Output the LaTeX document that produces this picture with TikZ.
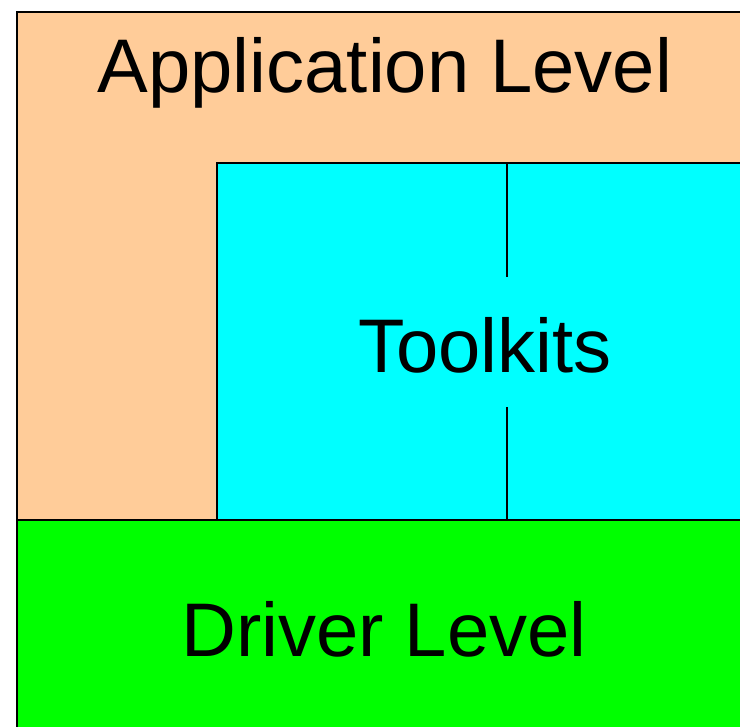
\documentclass[tikz,border=0pt]{standalone}
\usepackage{fontspec}
\setmainfont{Liberation Sans}
\usetikzlibrary{positioning}
\definecolor{appPeach}{RGB}{255,204,153}
\definecolor{toolCyan}{RGB}{0,255,255}
\definecolor{drvGreen}{RGB}{0,255,0}

\tikzset{
  layer/.style={draw=black,line width=2pt},
  layerlabel/.style={font=\fontsize{76}{90}\selectfont,inner sep=0pt},
}

\begin{document}
\begin{tikzpicture}[x=1pt,y=-1pt]
        \useasboundingbox (0,0) rectangle (740,727);
        \clip (0,0) rectangle (740,727);
        % the three layers, stacked
        \fill[appPeach] (17,12) rectangle (760,520);
        \draw[layer,fill=toolCyan] (217,163) rectangle (760,520);
        \draw[layer,fill=drvGreen] (17,520) rectangle (760,760);
        \draw[layer] (17,12) rectangle (760,760);
        % labels
        \node[layerlabel] (app) at (385,73) {Application Level};
        \node[layerlabel] (tool) at (485,345) {Toolkits};
        \node[layerlabel] (drv) at (384,629) {Driver Level};
        % split of the toolkit box, broken round its label
        \coordinate (splitTop) at (507,163);
        \coordinate (splitBot) at (507,520);
        \coordinate (gapTop) at (507,277);
        \coordinate (gapBot) at (507,407);
        \draw[line width=1.3pt] (splitTop) -- (gapTop);
        \draw[line width=1.3pt] (gapBot) -- (splitBot);
      \end{tikzpicture}
\end{document}
